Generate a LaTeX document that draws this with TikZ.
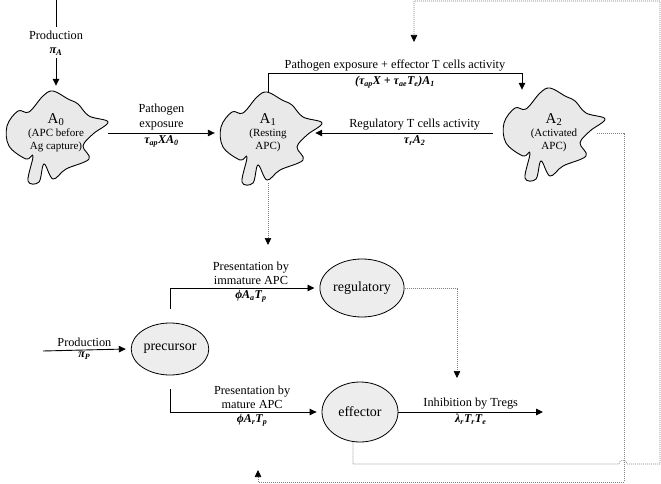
\documentclass[tikz,border=0pt]{standalone}
\usepackage{fontspec}
\setmainfont{Liberation Serif}
\usetikzlibrary{arrows.meta,shapes.geometric}

\tikzset{
  flow/.style={line width=0.9pt, -{Triangle[length=7pt,width=6.5pt]}},
  fbline/.style={draw=gray, line width=0.6pt, dash pattern=on 1pt off 1pt},
  fbflow/.style={fbline, -{Triangle[length=7pt,width=6.5pt,color=black]}},
  apctext/.style={align=center, inner sep=0pt, font=\fontsize{11}{13}\selectfont},
  cell/.style={ellipse, draw, fill=gray!14, line width=0.8pt, inner sep=1pt,
    font=\fontsize{14}{16}\selectfont},
  lbl/.style={align=center, inner sep=2.5pt, font=\fontsize{12.3}{14.5}\selectfont},
  rate/.style={inner sep=2pt, font=\fontsize{12}{14}\selectfont\bfseries\itshape},
  apc/.pic={
    \draw[fill=gray!17, line width=0.9pt] plot[smooth cycle, tension=0.6] coordinates {
      (-50,-11) (-48,9) (-31,22) (-24,19) (-29,44) (-18,45) (-13,27) (-4,42)
      (9,32) (32,22) (26,9) (36,-3) (51,-15) (32,-21) (21,-33) (11,-38)
      (-4,-46) (-14,-41) (-28,-25) (-39,-26)};
  }
}

\begin{document}
\begin{tikzpicture}[x=1pt, y=-1pt]
  \useasboundingbox (0,0) rectangle (661,484);

  % antigen presenting cells
  \pic at (57,137) {apc};
  \pic at (271,138) {apc};
  \pic at (554,134) {apc};
  \node[apctext, minimum width=104, minimum height=94] (A0) at (56,133)
    {{\fontsize{15}{16}\selectfont A\textsubscript{0}}\\(APC before\\Ag capture)};
  \node[apctext, minimum width=106, minimum height=82] (A1) at (268,133)
    {{\fontsize{15}{16}\selectfont A\textsubscript{1}}\\(Resting\\APC)};
  \node[apctext, minimum width=104, minimum height=86] (A2) at (554,133)
    {{\fontsize{15}{16}\selectfont A\textsubscript{2}}\\(Activated\\APC)};

  % T cells
  \node[cell, minimum width=70, minimum height=52] (pre) at (170,349) {precursor};
  \node[cell, minimum width=78, minimum height=58] (reg) at (362,288) {regulatory};
  \node[cell, minimum width=76, minimum height=60] (eff) at (360,412) {effector};

  \coordinate (topA) at (56,0);
  \coordinate (prodP) at (43,351);
  \coordinate (inhib) at (543,412);
  \coordinate (a1tip) at (268,245);
  \coordinate (tregtip) at (457,378);
  \coordinate (efftip) at (414,42);
  \coordinate (a2tip) at (258,470);

  % APC transitions
  \draw[flow] (topA) -- node[lbl, fill=white, inner sep=3pt] {Production\\\textbf{\textit{π\textsubscript{A}}}} (A0.north);
  \draw[flow] (A0.east) -- node[lbl, above] {Pathogen\\exposure}
    node[rate, below] {τ\textsubscript{ap}XA\textsubscript{0}} (A1.west);
  \draw[flow] (A1.north) -- ++(0,-18) -| node[pos=0.25, lbl, above] {Pathogen exposure + effector T cells activity}
    node[pos=0.25, rate, below] {(τ\textsubscript{ap}X + τ\textsubscript{ae}T\textsubscript{e})A\textsubscript{1}} ([xshift=-32]A2.north);
  \draw[flow] ([xshift=-9]A2.west) -- node[pos=0.44, lbl, above] {Regulatory T cells activity}
    node[pos=0.44, rate, below] {τ\textsubscript{r}A\textsubscript{2}} ([xshift=-6]A1.east);

  % T cell transitions
  \draw[flow] (prodP) -- node[lbl, above] {Production}
    node[rate, below] {π\textsubscript{P}} ([xshift=-5]pre.west);
  \draw[flow] ([yshift=14]pre.north) |- node[pos=0.78, lbl, above] {Presentation by\\immature APC}
    node[pos=0.78, rate, below] {ϕA\textsubscript{a}T\textsubscript{p}} ([xshift=-5]reg.west);
  \draw[flow] ([yshift=-14]pre.south) |- node[pos=0.78, lbl, above] {Presentation by\\mature APC}
    node[pos=0.78, rate, below] {ϕA\textsubscript{r}T\textsubscript{p}} ([xshift=-5]eff.west);
  \draw[flow] (eff.east) -- node[lbl, above] {Inhibition by Tregs}
    node[rate, below] {λ\textsubscript{r}T\textsubscript{r}T\textsubscript{e}} (inhib);

  % feedbacks
  \draw[fbflow] ([yshift=-9]A1.south) -- (a1tip);
  \draw[fbflow] (reg.east) -| (tregtip);
  \draw[fbflow] ([xshift=-7]eff.south) |- (619,464) arc (180:360:4) -- (660,464)
    -- (660,1) -| (efftip);
  \draw[fbflow] ([xshift=-9]A2.east) -| (624,482) -| (a2tip);
\end{tikzpicture}
\end{document}
